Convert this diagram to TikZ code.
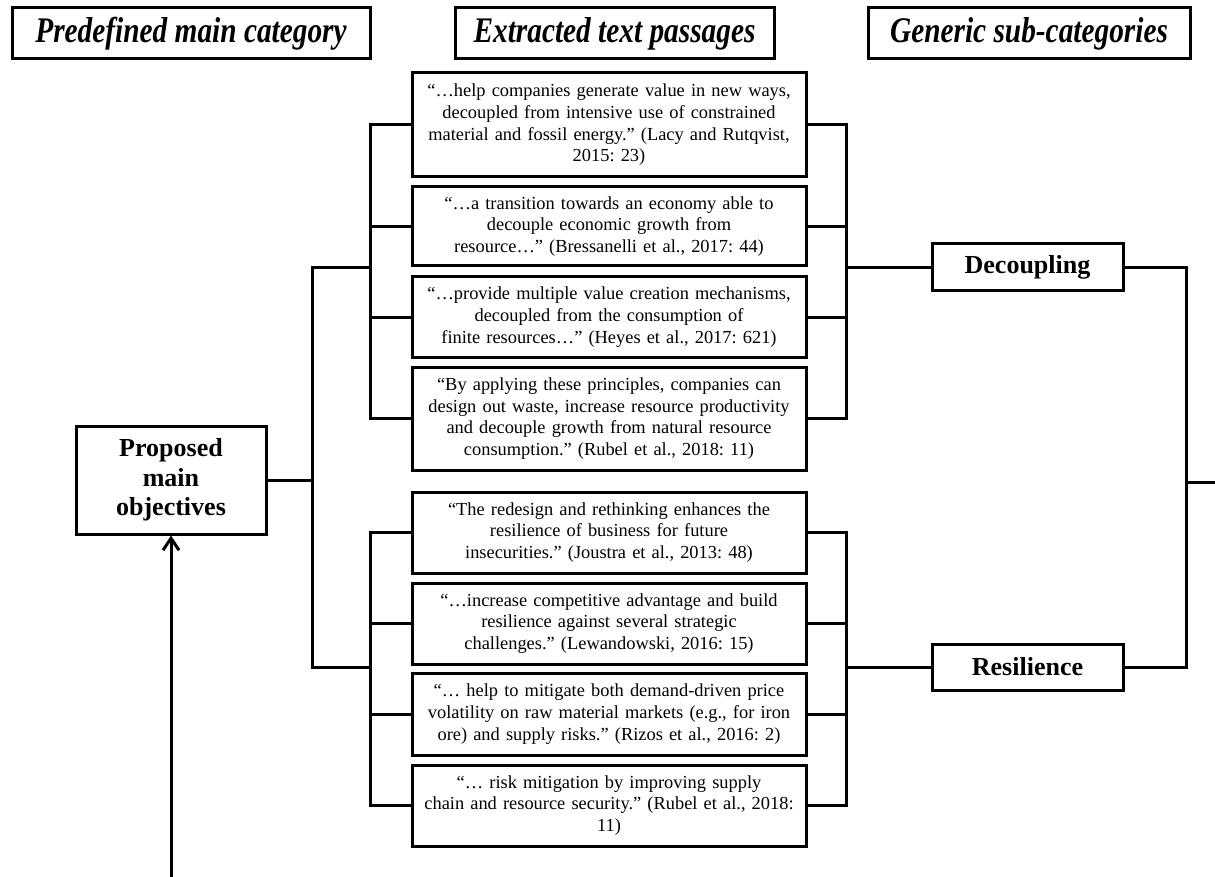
\documentclass[tikz,border=0pt]{standalone}
\usepackage{graphicx}
\usepackage{fontspec}
\setmainfont{Liberation Serif}
\usetikzlibrary{arrows.meta}

\begin{document}
\frenchspacing
\begin{tikzpicture}[x=0.5pt,y=-0.5pt,line width=1.5pt,
                    head node/.style={draw, minimum height=25.5pt, inner sep=0pt,
                      font=\bfseries\itshape\fontsize{18}{20}\selectfont},
                    quote node/.style={draw, text width=196pt, minimum width=197pt, align=center,
                      inner sep=0pt, font=\fontsize{9.2}{10.85}\selectfont},
                    cat node/.style={draw, minimum width=95.5pt, align=center, inner sep=0pt,
                      font=\bfseries\fontsize{13}{14.7}\selectfont}]
  \useasboundingbox (0,0) rectangle (1215,877);

  %Headers%
  \node[head node, minimum width=179pt] (h1) at (191,33.5) {\scalebox{0.815}[1]{Predefined main category}};
  \node[head node, minimum width=159.5pt] (h2) at (614.5,33.5) {\scalebox{0.815}[1]{Extracted text passages}};
  \node[head node, minimum width=161pt] (h3) at (1029,33.5) {\scalebox{0.815}[1]{Generic sub-categories}};

  %Quotes%
  \node[quote node, minimum height=52pt] (q1) at (609,125) {``\dots help companies generate value in new ways,\\ decoupled from intensive use of constrained\\ material and fossil energy.'' (Lacy and Rutqvist,\\ 2015: 23)};
  \node[quote node, minimum height=39.5pt] (q2) at (609,226.5) {``\dots a transition towards an economy able to\\ decouple economic growth from\\ resource\dots'' (Bressanelli et al., 2017: 44)};
  \node[quote node, minimum height=40pt] (q3) at (609,317) {``\dots provide multiple value creation mechanisms,\\ decoupled from the consumption of\\ finite resources\dots'' (Heyes et al., 2017: 621)};
  \node[quote node, minimum height=51.5pt] (q4) at (609,418.5) {``By applying these principles, companies can\\ design out waste, increase resource productivity\\ and decouple growth from natural resource\\ consumption.'' (Rubel et al., 2018: 11)};
  \node[quote node, minimum height=40.5pt] (q5) at (609,532.5) {``The redesign and rethinking enhances the\\ resilience of business for future\\ insecurities.'' (Joustra et al., 2013: 48)};
  \node[quote node, minimum height=40.5pt] (q6) at (609,623.5) {``\dots increase competitive advantage and build\\ resilience against several strategic\\ challenges.'' (Lewandowski, 2016: 15)};
  \node[quote node, minimum height=41pt] (q7) at (609,714) {``\dots\ help to mitigate both demand-driven price\\ volatility on raw material markets (e.g., for iron\\ ore) and supply risks.'' (Rizos et al., 2016: 2)};
  \node[quote node, minimum height=40.5pt] (q8) at (609,805.5) {``\dots\ risk mitigation by improving supply\\ chain and resource security.'' (Rubel et al., 2018:\\ 11)};

  %Categories%
  \node[cat node, minimum width=95pt, minimum height=54pt] (prop) at (171,480) {Proposed\\ main\\ objectives};
  \node[cat node, minimum height=23.5pt] (dec) at (1027.5,267.5) {Decoupling};
  \node[cat node, minimum height=23pt] (res) at (1027.5,667) {Resilience};

  %Lines%
  \coordinate (trunk) at (312,0);
  \coordinate (lbr) at (370,0);
  \coordinate (rbr) at (846,0);
  \coordinate (rtr) at (1186,0);
  \coordinate (out) at (1215,482);
  \coordinate (src) at (171,877);

  \draw (prop.east) -- (prop.east -| trunk);
  \draw (dec.west -| lbr) -- (dec.west -| trunk) -- (res.west -| trunk) -- (res.west -| lbr);

  \draw (q1.west) -- (q1.west -| lbr) -- (q4.west -| lbr) -- (q4.west);
  \draw (q2.west) -- (q2.west -| lbr);
  \draw (q3.west) -- (q3.west -| lbr);
  \draw (q5.west) -- (q5.west -| lbr) -- (q8.west -| lbr) -- (q8.west);
  \draw (q6.west) -- (q6.west -| lbr);
  \draw (q7.west) -- (q7.west -| lbr);

  \draw (q1.east) -- (q1.east -| rbr) -- (q4.east -| rbr) -- (q4.east);
  \draw (q2.east) -- (q2.east -| rbr);
  \draw (q3.east) -- (q3.east -| rbr);
  \draw (q5.east) -- (q5.east -| rbr) -- (q8.east -| rbr) -- (q8.east);
  \draw (q6.east) -- (q6.east -| rbr);
  \draw (q7.east) -- (q7.east -| rbr);
  \draw (dec.west) -- (dec.west -| rbr);
  \draw (res.west) -- (res.west -| rbr);

  \draw (dec.east) -- (dec.east -| rtr) -- (res.east -| rtr) -- (res.east);
  \draw (out -| rtr) -- (out);

  \draw[-{Straight Barb[length=6pt,width=8pt]}] (src) -- (prop.south);
\end{tikzpicture}
\end{document}
